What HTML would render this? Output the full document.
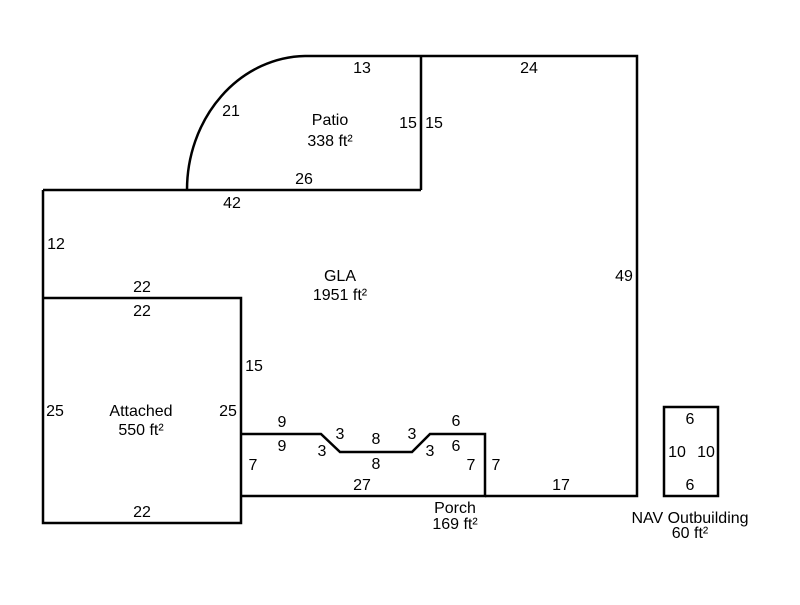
<!DOCTYPE html>
<html><head><meta charset="utf-8"><style>
html,body{margin:0;padding:0;background:#fff;}
svg text{font-family:"Liberation Sans",Arial,sans-serif;font-size:16px;fill:#000;text-anchor:middle;}
</style></head><body>
<svg width="800" height="600" viewBox="0 0 800 600" xmlns="http://www.w3.org/2000/svg">
<g fill="none" stroke="#000" stroke-width="2.5">
<path d="M187,190 A120 134 0 0 1 305,56 L637,56 L637,496 L485,496"/>
<path d="M421,56 L421,190"/>
<path d="M187,190 L421,190"/>
<path d="M43,190 L187,190"/>
<path d="M43,190 L43,523 L241,523 L241,298 L43,298"/>
<path d="M241,434 L321,434 L340,452 L412,452 L430,434 L485,434 L485,496 L241,496"/>
<rect x="664" y="407" width="54" height="89"/>
</g>
<text x="362" y="73">13</text>
<text x="529" y="73">24</text>
<text x="231" y="116">21</text>
<text x="330" y="125">Patio</text>
<text x="330" y="146">338 ft²</text>
<text x="408" y="128">15</text>
<text x="434" y="128">15</text>
<text x="304" y="184">26</text>
<text x="232" y="208">42</text>
<text x="56" y="249">12</text>
<text x="340" y="281">GLA</text>
<text x="340" y="300">1951 ft²</text>
<text x="624" y="281">49</text>
<text x="142" y="292">22</text>
<text x="142" y="316">22</text>
<text x="254" y="371">15</text>
<text x="55" y="416">25</text>
<text x="141" y="416">Attached</text>
<text x="141" y="435">550 ft²</text>
<text x="228" y="416">25</text>
<text x="282" y="427">9</text>
<text x="282" y="451">9</text>
<text x="340" y="439">3</text>
<text x="322" y="456">3</text>
<text x="376" y="444">8</text>
<text x="376" y="469">8</text>
<text x="412" y="439">3</text>
<text x="430" y="456">3</text>
<text x="456" y="426">6</text>
<text x="456" y="451">6</text>
<text x="253" y="470">7</text>
<text x="471" y="470">7</text>
<text x="496" y="470">7</text>
<text x="362" y="490">27</text>
<text x="561" y="490">17</text>
<text x="455" y="513">Porch</text>
<text x="455" y="529">169 ft²</text>
<text x="142" y="517">22</text>
<text x="690" y="424">6</text>
<text x="677" y="457">10</text>
<text x="706" y="457">10</text>
<text x="690" y="490">6</text>
<text x="690" y="523">NAV Outbuilding</text>
<text x="690" y="538">60 ft²</text>
</svg>
</body></html>
